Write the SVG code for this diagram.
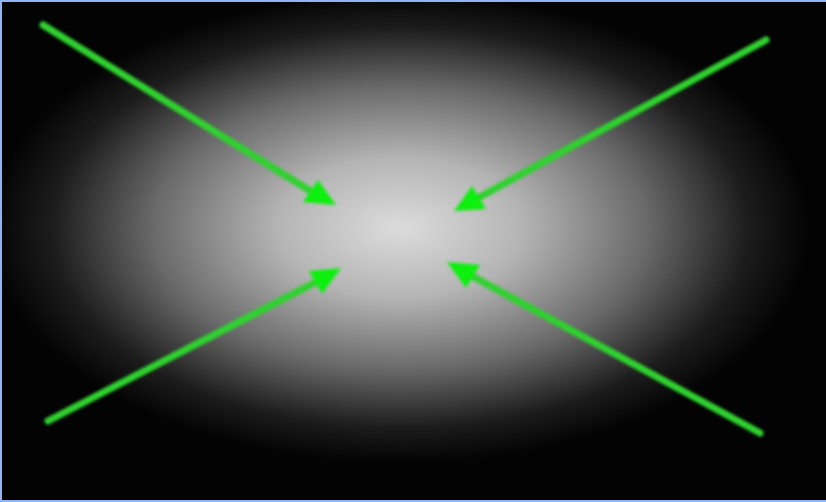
<svg xmlns="http://www.w3.org/2000/svg" width="826" height="502" viewBox="0 0 826 502">
  <style>
    .arrow { stroke: #2ed12e; stroke-width: 7; stroke-linecap: round; fill: none; filter: url(#soft); }
    .head { fill: #10ef10; filter: url(#soft); }
  </style>
  <defs>
    <radialGradient id="glow" cx="400" cy="228" r="1" gradientUnits="userSpaceOnUse" gradientTransform="translate(400 228) scale(410 235) translate(-400 -228)">
      <stop offset="0" stop-color="#dcdcdc"/>
      <stop offset="0.3" stop-color="#b4b4b4"/>
      <stop offset="0.6" stop-color="#6a6a6a"/>
      <stop offset="0.85" stop-color="#1c1c1c"/>
      <stop offset="1" stop-color="#030303"/>
    </radialGradient>
    <filter id="soft" x="-20%" y="-20%" width="140%" height="140%">
      <feGaussianBlur stdDeviation="1.6"/>
    </filter>
  </defs>
  <rect x="0" y="0" width="826" height="502" fill="#030303"/>
  <rect x="0" y="0" width="826" height="502" fill="url(#glow)"/>
  <g id="connectors">
    <g id="arrow-top-left">
      <line class="arrow" x1="43" y1="25" x2="312" y2="192"/>
      <polygon class="head" points="336,205 303,202 318,180"/>
    </g>
    <g id="arrow-top-right">
      <line class="arrow" x1="766" y1="40" x2="478" y2="198"/>
      <polygon class="head" points="454,211 472,186 486,209"/>
    </g>
    <g id="arrow-bottom-left">
      <line class="arrow" x1="48" y1="421" x2="316" y2="282"/>
      <polygon class="head" points="341,268 322,294 309,271"/>
    </g>
    <g id="arrow-bottom-right">
      <line class="arrow" x1="760" y1="433" x2="472" y2="276"/>
      <polygon class="head" points="447,262 480,265 466,288"/>
    </g>
  </g>
  <rect x="0" y="0" width="826" height="2" fill="#8cb4f6"/>
  <rect x="0" y="0" width="2" height="502" fill="#8cb4f6"/>
  <rect x="0" y="500" width="826" height="2" fill="#8cb4f6"/>
</svg>
